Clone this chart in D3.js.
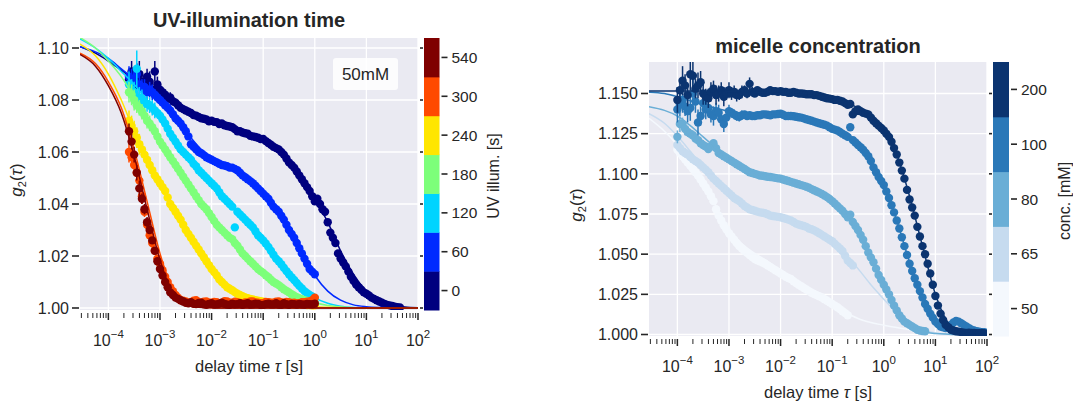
<!DOCTYPE html>
<html><head><meta charset="utf-8">
<script src="https://cdn.jsdelivr.net/npm/d3@7"></script>
<style>
body{margin:0;background:#fff}
svg{display:block}
text{font-family:"Liberation Sans",Arial,Helvetica,sans-serif;fill:#262626}
</style></head>
<body><svg id="c" width="1073" height="401"></svg>
<script>
// ---------- shared lag times (s), 20 per decade ----------
const tauGrid = [
 1.00e-4,1.12e-4,1.26e-4,1.41e-4,1.58e-4,1.78e-4,2.00e-4,2.24e-4,2.51e-4,2.82e-4,3.16e-4,3.55e-4,3.98e-4,4.47e-4,5.01e-4,5.62e-4,6.31e-4,7.08e-4,7.94e-4,8.91e-4,
 1.00e-3,1.12e-3,1.26e-3,1.41e-3,1.58e-3,1.78e-3,2.00e-3,2.24e-3,2.51e-3,2.82e-3,3.16e-3,3.55e-3,3.98e-3,4.47e-3,5.01e-3,5.62e-3,6.31e-3,7.08e-3,7.94e-3,8.91e-3,
 1.00e-2,1.12e-2,1.26e-2,1.41e-2,1.58e-2,1.78e-2,2.00e-2,2.24e-2,2.51e-2,2.82e-2,3.16e-2,3.55e-2,3.98e-2,4.47e-2,5.01e-2,5.62e-2,6.31e-2,7.08e-2,7.94e-2,8.91e-2,
 0.100,0.112,0.126,0.141,0.158,0.178,0.200,0.224,0.251,0.282,0.316,0.355,0.398,0.447,0.501,0.562,0.631,0.708,0.794,0.891,
 1.00,1.12,1.26,1.41,1.58,1.78,2.00,2.24,2.51,2.82,3.16,3.55,3.98,4.47,5.01,5.62,6.31,7.08,7.94,8.91,
 10.0,11.2,12.6,14.1,15.8,17.8,20.0,22.4,25.1,28.2,31.6,35.5,39.8,44.7,50.1,56.2,63.1,70.8,79.4,89.1];
const tauLeft = tauGrid.slice(8);   // left panel data start at 2.5e-4 s
const fitTau = [2.82e-5,5.62e-5,1.00e-4,1.78e-4,3.16e-4,5.62e-4,1.00e-3,1.78e-3,3.16e-3,5.62e-3,
 1.00e-2,1.78e-2,3.16e-2,5.62e-2,0.100,0.178,0.316,0.562,1.00,1.78,3.16,5.62,10.0,17.8,31.6,56.2,100];

// ---------- axis ticks ----------
const xTickValues = [1e-4,1e-3,1e-2,1e-1,1,10,100];
const xTickExponents = ["\u22124","\u22123","\u22122","\u22121","0","1","2"];
const yTicksLeft = [1.00,1.02,1.04,1.06,1.08,1.10];
const yTickLabelsLeft = ["1.00","1.02","1.04","1.06","1.08","1.10"];
const yTicksRight = [1.000,1.025,1.050,1.075,1.100,1.125,1.150];
const yTickLabelsRight = ["1.000","1.025","1.050","1.075","1.100","1.125","1.150"];

// ---------- left panel: UV illumination time ----------
const uvLabels = ["0","60","120","180","240","300","540"];
const uvColors = ["#00007f","#002aff","#00d4ff","#7dff7a","#ffe600","#ff4a00","#7f0000"];
const g2uv0 = [
 1.088,1.091,1.086,1.089,1.090,1.087,1.085,1.089,1.087,1.084,
 1.091,1.086,1.084,1.083,1.082,1.0805,1.081,1.0795,1.079,1.078,
 1.077,1.0765,1.076,1.0755,1.075,1.0742,1.074,1.0735,1.073,1.0728,
 1.0725,1.0718,1.072,1.0716,1.0715,1.0708,1.071,1.0703,1.070,1.0698,
 1.0695,1.0688,1.068,1.068,1.0675,1.0672,1.067,1.0662,1.066,1.0658,
 1.0655,1.065,1.065,1.0642,1.0635,1.0628,1.062,1.0615,1.061,1.060,
 1.059,1.0575,1.056,1.055,1.054,1.0525,1.051,1.0495,1.048,1.0465,
 1.045,1.043,1.041,1.042,1.040,1.038,1.037,1.033,1.029,1.027,
 1.025,1.021,1.019,1.0175,1.016,1.014,1.012,1.0105,1.009,1.008,
 1.007,1.006,1.0055,1.0048,1.004,1.0035,1.003,1.0025,1.002,1.0016,
 1.0012,1.001,1.0008,1.0005,1.0003,1.0002];
const g2uv60 = [
 1.089,1.088,1.087,1.090,1.086,1.085,1.085,1.083,1.084,1.083,
 1.082,1.081,1.080,1.079,1.078,1.077,1.076,1.0745,1.073,1.072,
 1.071,1.0695,1.068,1.066,1.063,1.062,1.061,1.060,1.0595,1.0588,
 1.058,1.0575,1.057,1.0565,1.056,1.0555,1.055,1.0548,1.0545,1.054,
 1.054,1.0535,1.053,1.052,1.051,1.0503,1.0495,1.0488,1.048,1.047,
 1.046,1.045,1.044,1.043,1.042,1.0405,1.039,1.038,1.037,1.0355,
 1.034,1.032,1.030,1.0285,1.027,1.025,1.023,1.021,1.019,1.017,
 1.015,1.014,1.013];
const g2uv120 = [
 1.086,1.084,1.083,1.092,1.081,1.080,1.079,1.0785,1.078,1.077,
 1.076,1.075,1.074,1.0725,1.071,1.069,1.067,1.0655,1.064,1.0625,
 1.061,1.060,1.059,1.058,1.057,1.0555,1.0545,1.053,1.052,1.051,
 1.050,1.049,1.048,1.047,1.046,1.0445,1.043,1.042,1.041,1.040,
 1.039,1.031,1.037,1.036,1.035,1.034,1.033,1.032,1.031,1.0295,
 1.028,1.027,1.026,1.0248,1.0235,1.022,1.0205,1.019,1.018,1.0168,
 1.0155,1.0142,1.013,1.0118,1.0108,1.0096,1.0085,1.0075,1.0065,1.0057,
 1.005,1.0044,1.0038];
const g2uv180 = [
 1.083,1.082,1.080,1.078,1.077,1.0755,1.074,1.072,1.071,1.0695,
 1.068,1.066,1.064,1.0625,1.061,1.0595,1.058,1.0565,1.055,1.0535,
 1.052,1.0505,1.049,1.0475,1.046,1.0445,1.043,1.0415,1.040,1.039,
 1.038,1.0365,1.035,1.0335,1.032,1.031,1.030,1.029,1.028,1.027,
 1.0265,1.025,1.024,1.0225,1.021,1.020,1.019,1.018,1.017,1.016,
 1.015,1.0142,1.0135,1.0126,1.0118,1.0109,1.010,1.0094,1.0088,1.008,
 1.0072,1.0066,1.006,1.0053,1.0047,1.0042,1.0038,1.0034,1.003,1.0027,
 1.0025,1.0022,1.002];
const g2uv240 = [
 1.072,1.070,1.068,1.0655,1.063,1.061,1.059,1.057,1.055,1.053,
 1.051,1.0495,1.048,1.0465,1.045,1.0425,1.040,1.0385,1.037,1.0355,
 1.034,1.032,1.030,1.0285,1.027,1.0255,1.024,1.0225,1.021,1.0195,
 1.018,1.0165,1.015,1.0138,1.0125,1.011,1.010,1.009,1.008,1.0074,
 1.0068,1.0061,1.0055,1.005,1.0045,1.0041,1.0038,1.0035,1.0033,1.003,
 1.0028,1.0026,1.0024,1.0022,1.002,1.0019,1.0018,1.0017,1.0016,1.0016,
 1.0015,1.0015,1.0014,1.0014,1.0013,1.0013,1.0012,1.0012,1.0012,1.0011,
 1.0011,1.001,1.001];
const g2uv300 = [
 1.060,1.058,1.055,1.052,1.049,1.043,1.037,1.032,1.028,1.025,
 1.022,1.019,1.017,1.0145,1.012,1.010,1.008,1.0065,1.005,1.004,
 1.003,1.0028,1.0025,1.002,1.002,1.0028,1.003,1.0022,1.002,1.0024,
 1.0025,1.002,1.002,1.0023,1.0022,1.0018,1.0018,1.0026,1.0025,1.002,
 1.002,1.0024,1.0022,1.0019,1.0018,1.0021,1.002,1.0025,1.0025,1.0021,
 1.002,1.0018,1.0018,1.0023,1.0022,1.002,1.002,1.0024,1.0025,1.0021,
 1.002,1.0023,1.0022,1.0019,1.002,1.0018,1.0018,1.0022,1.0022,1.0024,
 1.0025,1.003,1.004];
const g2uv540 = [
 1.068,1.064,1.059,1.052,1.046,1.042,1.038,1.033,1.030,1.026,
 1.022,1.018,1.015,1.0125,1.010,1.008,1.006,1.005,1.004,1.0035,
 1.003,1.0025,1.002,1.0018,1.0022,1.0016,1.0015,1.0019,1.002,1.0014,
 1.0012,1.0016,1.0018,1.0013,1.0014,1.0017,1.002,1.0016,1.0013,1.0012,
 1.0017,1.0014,1.0015,1.0018,1.0012,1.0016,1.0018,1.0013,1.0014,1.0017,
 1.0016,1.0012,1.0012,1.0015,1.0017,1.0014,1.0014,1.0018,1.0013,1.0012,
 1.0018,1.0015,1.0012,1.0016,1.0015,1.0013,1.0016,1.0014,1.0013,1.0016,
 1.0015,1.0014,1.0017];
const erruv0 = [0.004,0.004,0.004,0.005,0.005,0.004,0.004,0.003,0.004,0.003,0.004,0.003,0.003,0.002,0.002,0.002,0.002,0.0015];
const erruv60 = [0.004,0.004,0.004,0.004,0.004,0.003,0.003,0.003,0.003,0.003,0.002,0.002,0.002,0.002,0.0015];
const erruv120 = [0.005,0.004,0.004,0.007,0.004,0.004,0.003,0.003,0.003,0.003,0.003,0.002,0.002,0.002];
const erruv180 = [0.004,0.004,0.004,0.003,0.003,0.003,0.003,0.003,0.003,0.002,0.002,0.002];
const erruv240 = [0.004,0.004,0.004,0.004,0.004,0.003,0.003,0.003,0.003,0.002,0.002,0.002];
const erruv300 = [0.004,0.003,0.003,0.003,0.003,0.003,0.002,0.002,0.002,0.002];
const erruv540 = [0.003,0.003,0.003,0.003,0.003,0.002,0.002,0.002];
const fituv0 = [1.1005,1.098,1.095,1.0915,1.088,1.0855,1.083,1.080,1.077,1.0745,1.0725,1.0708,1.069,1.0668,1.0645,1.0615,1.0565,1.050,1.042,1.033,1.022,1.013,1.0065,1.003,1.0012,1.0004,1.0001];
const fituv60 = [1.1005,1.0985,1.096,1.092,1.088,1.0845,1.080,1.0745,1.068,1.062,1.0575,1.055,1.0525,1.049,1.0445,1.038,1.030,1.021,1.0125,1.0065,1.003,1.0012,1.0005,1.0002,1.0001,1.0,1.0];
const fituv120 = [1.1035,1.100,1.096,1.091,1.086,1.080,1.074,1.066,1.059,1.0535,1.048,1.042,1.037,1.032,1.026,1.0195,1.013,1.0078,1.004,1.0018,1.0007,1.0002,1.0,1.0,1.0,1.0,1.0];
const fituv180 = [1.104,1.100,1.095,1.089,1.081,1.0725,1.064,1.0555,1.048,1.0415,1.035,1.029,1.024,1.018,1.0135,1.0095,1.006,1.0035,1.002,1.001,1.0004,1.0001,1.0,1.0,1.0,1.0,1.0];
const fituv240 = [1.1015,1.097,1.090,1.080,1.068,1.057,1.048,1.039,1.030,1.0225,1.015,1.009,1.0055,1.0033,1.0022,1.0015,1.001,1.0007,1.0005,1.0003,1.0002,1.0001,1.0,1.0,1.0,1.0,1.0];
const fituv300 = [1.098,1.094,1.087,1.077,1.061,1.041,1.021,1.007,1.0018,1.0005,1.0001,1.0,1.0,1.0,1.0,1.0,1.0,1.0,1.0,1.0,1.0,1.0,1.0,1.0,1.0,1.0,1.0];
const fituv540 = [1.0975,1.093,1.0855,1.075,1.0585,1.038,1.0185,1.0055,1.0012,1.0003,1.0001,1.0,1.0,1.0,1.0,1.0,1.0,1.0,1.0,1.0,1.0,1.0,1.0,1.0,1.0,1.0,1.0];

// ---------- right panel: micelle concentration ----------
const concLabels = ["50","65","80","100","200"];
const concColors = ["#f4f8fd","#c6dbef","#6aaed6","#2a78b8","#0b3470"];
const g2c50 = [
 1.115,1.113,1.111,1.109,1.107,1.105,1.103,1.101,1.099,1.0965,
 1.094,1.0915,1.089,1.086,1.083,1.078,1.074,1.071,1.068,1.0655,
 1.063,1.061,1.059,1.057,1.055,1.0535,1.052,1.0508,1.0495,1.0482,
 1.047,1.0462,1.0455,1.0448,1.044,1.043,1.042,1.041,1.040,1.039,
 1.038,1.037,1.036,1.0352,1.0345,1.0332,1.032,1.031,1.030,1.029,
 1.028,1.027,1.026,1.0252,1.0245,1.0238,1.023,1.022,1.021,1.020,
 1.019,1.018,1.017,1.0158,1.0145,1.0133,1.012];
const g2c65 = [
 1.118,1.116,1.114,1.113,1.112,1.1105,1.109,1.108,1.107,1.1055,
 1.104,1.1025,1.101,1.099,1.097,1.0955,1.094,1.0925,1.091,1.0895,
 1.088,1.0865,1.085,1.084,1.083,1.0815,1.080,1.079,1.078,1.0775,
 1.077,1.0765,1.076,1.0758,1.0755,1.0748,1.074,1.0738,1.0735,1.0732,
 1.073,1.0725,1.072,1.0715,1.071,1.070,1.069,1.0685,1.068,1.0675,
 1.067,1.066,1.0655,1.0648,1.064,1.063,1.062,1.061,1.060,1.059,
 1.058,1.0565,1.055,1.0535,1.052,1.049,1.046,1.0445,1.043];
const g2c80 = [
 1.123,1.131,1.131,1.128,1.126,1.125,1.124,1.122,1.121,1.119,
 1.118,1.117,1.1155,1.117,1.119,1.116,1.113,1.112,1.111,1.110,
 1.109,1.108,1.107,1.106,1.105,1.104,1.103,1.102,1.101,1.1005,
 1.100,1.0995,1.099,1.0988,1.0985,1.0982,1.098,1.0978,1.0975,1.0972,
 1.097,1.0965,1.096,1.0955,1.095,1.0945,1.094,1.0935,1.093,1.0925,
 1.092,1.0913,1.0905,1.0898,1.089,1.0883,1.0875,1.0865,1.0855,1.0843,
 1.083,1.0815,1.080,1.0785,1.077,1.075,1.073,1.0745,1.070,1.0675,
 1.065,1.062,1.059,1.055,1.051,1.048,1.045,1.041,1.037,1.034,
 1.031,1.028,1.025,1.0215,1.018,1.015,1.012,1.010,1.008,1.007,
 1.006,1.005,1.004,1.003,1.0025,1.0022,1.002];
const g2c100 = [
 1.140,1.143,1.146,1.142,1.139,1.141,1.150,1.145,1.132,1.136,
 1.144,1.140,1.141,1.137,1.136,1.139,1.138,1.134,1.131,1.135,
 1.139,1.138,1.137,1.136,1.1355,1.1365,1.137,1.136,1.1365,1.136,
 1.136,1.1365,1.1365,1.137,1.137,1.1368,1.1365,1.137,1.137,1.1372,
 1.1375,1.1368,1.136,1.136,1.136,1.1358,1.1355,1.1352,1.135,1.1345,
 1.134,1.1335,1.133,1.1325,1.132,1.1315,1.131,1.1305,1.130,1.129,
 1.128,1.1275,1.127,1.126,1.125,1.124,1.123,1.129,1.121,1.1195,
 1.118,1.1165,1.115,1.113,1.111,1.108,1.104,1.101,1.098,1.0955,
 1.093,1.089,1.085,1.0805,1.076,1.071,1.066,1.0605,1.055,1.0495,
 1.044,1.0395,1.035,1.031,1.027,1.023,1.019,1.016,1.013,1.0105,
 1.008,1.0065,1.005,1.0045,1.004,1.005,1.006,1.0075,1.0085,1.008,
 1.007,1.006,1.005,1.004,1.003,1.0025,1.002,1.0018,1.0015,1.0015];
const g2c200 = [
 1.146,1.152,1.158,1.155,1.149,1.162,1.161,1.153,1.155,1.157,
 1.150,1.148,1.147,1.151,1.153,1.149,1.150,1.152,1.148,1.150,
 1.152,1.150,1.151,1.149,1.149,1.151,1.152,1.150,1.156,1.151,
 1.150,1.152,1.151,1.1505,1.1505,1.151,1.152,1.1515,1.1515,1.151,
 1.1515,1.151,1.151,1.1505,1.1505,1.151,1.1505,1.150,1.150,1.1498,
 1.1495,1.1495,1.1495,1.149,1.149,1.1485,1.148,1.1475,1.147,1.1468,
 1.1465,1.146,1.146,1.1455,1.145,1.144,1.143,1.1435,1.137,1.139,
 1.140,1.139,1.138,1.1375,1.137,1.135,1.133,1.1315,1.130,1.1285,
 1.127,1.125,1.123,1.120,1.116,1.112,1.107,1.102,1.097,1.090,
 1.084,1.079,1.074,1.067,1.061,1.055,1.050,1.044,1.038,1.031,
 1.024,1.018,1.013,1.009,1.006,1.0045,1.003,1.0025,1.002,1.0018,
 1.0015,1.0012,1.001,1.0011,1.001,1.0009,1.0008,1.0008,1.0009,1.0008];
const errc50 = [0.003,0.003,0.003,0.002,0.002,0.002,0.002,0.002,0.002,0.002];
const errc65 = [0.003,0.003,0.003,0.003,0.003,0.002,0.002,0.002,0.002,0.002,0.002,0.002];
const errc80 = [0.004,0.005,0.004,0.004,0.003,0.003,0.003,0.003,0.003,0.003,0.003,0.002,0.002,0.002,0.002,0.002];
const errc100 = [0.008,0.007,0.008,0.006,0.007,0.008,0.009,0.007,0.008,0.006,0.007,0.006,0.006,0.005,0.006,0.005,0.005,0.004,0.005,0.004,0.004,0.003,0.003,0.003,0.003,0.003];
const errc200 = [0.008,0.006,0.009,0.007,0.007,0.010,0.009,0.006,0.008,0.007,0.007,0.005,0.006,0.006,0.005,0.006,0.005,0.005,0.006,0.004,0.005,0.004,0.004,0.004,0.003,0.004,0.003,0.003,0.004,0.003];
const fitc50 = [1.1345,1.1265,1.118,1.108,1.097,1.080,1.065,1.0565,1.0505,1.0455,1.0395,1.0335,1.0285,1.0235,1.0188,1.014,1.010,1.0075,1.0058,1.0043,1.003,1.0018,1.0009,1.0004,1.0001,1.0,1.0];
const fitc65 = [1.1375,1.1315,1.1235,1.114,1.104,1.0955,1.088,1.0815,1.0775,1.075,1.073,1.070,1.067,1.063,1.058,1.050,1.041,1.031,1.022,1.0135,1.007,1.003,1.001,1.0003,1.0001,1.0,1.0];
const fitc80 = [1.1418,1.1395,1.136,1.130,1.123,1.116,1.109,1.104,1.1005,1.0985,1.097,1.0948,1.092,1.0885,1.083,1.075,1.064,1.049,1.032,1.0165,1.0065,1.002,1.0006,1.0002,1.0,1.0,1.0];
const fitc100 = [1.1508,1.150,1.148,1.1455,1.143,1.1408,1.139,1.1378,1.137,1.1366,1.1362,1.1355,1.134,1.1318,1.1285,1.124,1.1175,1.107,1.092,1.071,1.045,1.022,1.008,1.0025,1.0007,1.0002,1.0];
const fitc200 = [1.1515,1.1515,1.1515,1.1515,1.1515,1.1515,1.1513,1.151,1.1508,1.1505,1.150,1.1495,1.149,1.148,1.1465,1.1445,1.141,1.1355,1.127,1.112,1.086,1.055,1.025,1.007,1.0015,1.0003,1.0];

// ---------- drawing ----------
const svg = d3.select("#c");
const defs = svg.append("defs");
const TXT = "#262626";

function panel(cfg){
  const x = d3.scaleLog().domain(cfg.xdom).range([cfg.x0, cfg.x1]);
  const y = d3.scaleLinear().domain(cfg.ydom).range([cfg.y1, cfg.y0]);
  const g = svg.append("g");
  g.append("rect").attr("x",cfg.x0).attr("y",cfg.y0)
    .attr("width",cfg.x1-cfg.x0).attr("height",cfg.y1-cfg.y0).attr("fill","#eaeaf2");
  g.selectAll(null).data(xTickValues).enter().append("line")
    .attr("x1",d=>x(d)).attr("x2",d=>x(d)).attr("y1",cfg.y0).attr("y2",cfg.y1)
    .attr("stroke","#fff").attr("stroke-width",1.3);
  g.selectAll(null).data(cfg.yticks).enter().append("line")
    .attr("x1",cfg.x0).attr("x2",cfg.x1).attr("y1",d=>y(d)).attr("y2",d=>y(d))
    .attr("stroke","#fff").attr("stroke-width",1.3);
  defs.append("clipPath").attr("id",cfg.id).append("rect")
    .attr("x",cfg.x0).attr("y",cfg.y0).attr("width",cfg.x1-cfg.x0).attr("height",cfg.y1-cfg.y0);
  const p = g.append("g").attr("clip-path",`url(#${cfg.id})`);
  const line = d3.line().x(d=>x(d[0])).y(d=>y(d[1])).curve(d3.curveMonotoneX);
  cfg.series.forEach(s=>{
    const pts = s.vals.map((v,i)=>({t:s.tau[i], v:v, e:(s.err[i]||0)}));
    p.append("g").selectAll("line").data(pts.filter(d=>d.e>0)).enter().append("line")
      .attr("x1",d=>x(d.t)).attr("x2",d=>x(d.t))
      .attr("y1",d=>y(d.v-d.e)).attr("y2",d=>y(d.v+d.e))
      .attr("stroke",s.color).attr("stroke-width",1.5);
    p.append("g").selectAll("circle").data(pts).enter().append("circle")
      .attr("cx",d=>x(d.t)).attr("cy",d=>y(d.v)).attr("r",cfg.r).attr("fill",s.color);
    p.append("path").datum(fitTau.map((t,i)=>[t,s.fit[i]]))
      .attr("d",line).attr("fill","none").attr("stroke",s.color).attr("stroke-width",1.5);
  });
  const isMajor = d=>Math.abs(Math.log10(d)-Math.round(Math.log10(d)))<1e-9;
  g.selectAll(null).data(x.ticks()).enter().append("line")
    .attr("x1",d=>x(d)).attr("x2",d=>x(d))
    .attr("y1",cfg.y1+3).attr("y2",d=>isMajor(d)? cfg.y1+10 : cfg.y1+8)
    .attr("stroke",TXT).attr("stroke-width",d=>isMajor(d)?1.5:1);
  const xl = g.selectAll(null).data(xTickValues).enter().append("text")
    .attr("x",d=>x(d)).attr("y",cfg.y1+36).attr("text-anchor","middle").attr("font-size",16);
  xl.append("tspan").text("10");
  xl.append("tspan").attr("dy",-8).attr("font-size",11.5).text((d,i)=>xTickExponents[i]);
  g.selectAll(null).data(cfg.yticks).enter().append("line")
    .attr("x1",cfg.x0-8).attr("x2",cfg.x0-1).attr("y1",d=>y(d)).attr("y2",d=>y(d))
    .attr("stroke",TXT).attr("stroke-width",1.6);
  g.selectAll(null).data(cfg.yticks).enter().append("line")
    .attr("x1",cfg.x1+2).attr("x2",cfg.x1+5).attr("y1",d=>y(d)).attr("y2",d=>y(d))
    .attr("stroke",TXT).attr("stroke-width",1.6);
  g.selectAll(null).data(cfg.yticks).enter().append("text")
    .attr("x",cfg.x0-11).attr("y",d=>y(d)).attr("dy","0.36em").attr("text-anchor","end")
    .attr("font-size",16).text((d,i)=>cfg.ylabels[i]);
  g.append("text").attr("x",(cfg.x0+cfg.x1)/2).attr("y",cfg.titleY).attr("text-anchor","middle")
    .attr("font-size",20).attr("font-weight","bold").text(cfg.title);
  const xt = g.append("text").attr("x",(cfg.x0+cfg.x1)/2).attr("y",cfg.y1+62)
    .attr("text-anchor","middle").attr("font-size",16.5);
  xt.append("tspan").text("delay time ");
  xt.append("tspan").attr("font-style","italic").text("\u03c4");
  xt.append("tspan").text(" [s]");
  const yt = g.append("text").attr("transform",`translate(${cfg.ylabX},${(cfg.y0+cfg.y1)/2+6}) rotate(-90)`)
    .attr("text-anchor","middle").attr("font-size",17);
  yt.append("tspan").attr("font-style","italic").text("g");
  yt.append("tspan").attr("font-size",11).attr("dy",4).text("2");
  yt.append("tspan").attr("dy",-4).text("(");
  yt.append("tspan").attr("font-style","italic").text("\u03c4");
  yt.append("tspan").text(")");
  const cb = cfg.cb;
  const band = d3.scaleBand().domain(cb.labels).range([cfg.y1, cfg.y0]);
  g.selectAll(null).data(cb.labels).enter().append("rect")
    .attr("x",cb.x).attr("width",cb.w).attr("y",d=>band(d)).attr("height",band.bandwidth()+0.5)
    .attr("fill",(d,i)=>cb.colors[i]);
  g.selectAll(null).data(cb.labels).enter().append("line")
    .attr("x1",cb.x+cb.w+2).attr("x2",cb.x+cb.w+8)
    .attr("y1",d=>band(d)+band.bandwidth()/2).attr("y2",d=>band(d)+band.bandwidth()/2)
    .attr("stroke",TXT).attr("stroke-width",1.6);
  g.selectAll(null).data(cb.labels).enter().append("text")
    .attr("x",cb.x+cb.w+12).attr("y",d=>band(d)+band.bandwidth()/2).attr("dy","0.36em")
    .attr("font-size",15.5).text(d=>d);
  g.append("text").attr("transform",`translate(${cb.labX},${(cfg.y0+cfg.y1)/2+2}) rotate(-90)`)
    .attr("text-anchor","middle").attr("font-size",16).text(cb.title);
  return {x,y,g};
}

function mk(tau, vals, errs, fits, colors){
  return vals.map((v,i)=>({tau:tau, vals:v, err:errs[i], fit:fits[i], color:colors[i]}));
}

const L = panel({
  id:"clipL", x0:80, x1:418, y0:38, y1:310,
  xdom:[2.82e-5,100], ydom:[0.99923,1.10385], r:4.2,
  yticks:yTicksLeft, ylabels:yTickLabelsLeft,
  title:"UV-illumination time", titleY:27, ylabX:22,
  series: mk(tauLeft,
    [g2uv0,g2uv60,g2uv120,g2uv180,g2uv240,g2uv300,g2uv540],
    [erruv0,erruv60,erruv120,erruv180,erruv240,erruv300,erruv540],
    [fituv0,fituv60,fituv120,fituv180,fituv240,fituv300,fituv540], uvColors),
  cb:{x:424, w:15.5, labels:uvLabels, colors:uvColors, title:"UV illum. [s]", labX:499}
});
L.g.append("rect").attr("x",333).attr("y",58).attr("width",65).attr("height",32)
  .attr("rx",3).attr("fill","#fff").attr("fill-opacity",0.85);
L.g.append("text").attr("x",365.5).attr("y",80).attr("text-anchor","middle")
  .attr("font-size",17).text("50mM");

panel({
  id:"clipR", x0:649, x1:987, y0:62, y1:336,
  xdom:[2.82e-5,100], ydom:[0.99907,1.1696], r:4.2,
  yticks:yTicksRight, ylabels:yTickLabelsRight,
  title:"micelle concentration", titleY:53, ylabX:582,
  series: mk(tauGrid,
    [g2c50,g2c65,g2c80,g2c100,g2c200],
    [errc50,errc65,errc80,errc100,errc200],
    [fitc50,fitc65,fitc80,fitc100,fitc200], concColors),
  cb:{x:993, w:16, labels:concLabels, colors:concColors, title:"conc. [mM]", labX:1070}
});
</script>
</body></html>
